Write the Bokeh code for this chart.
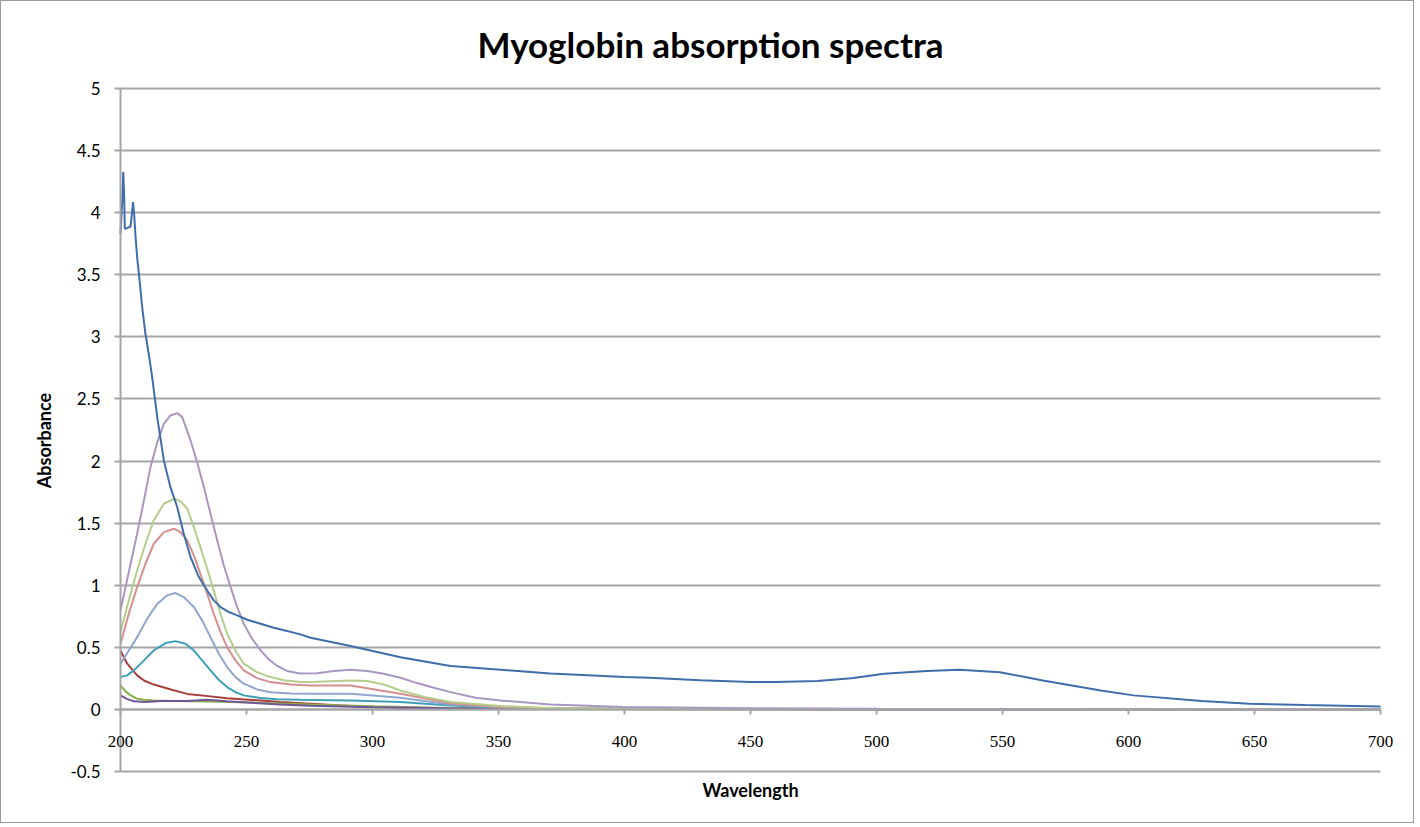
import math
from bokeh.plotting import figure
from bokeh.models import Range1d, FixedTicker, CustomJSTickFormatter, Label, LabelSet, ColumnDataSource
from bokeh.embed import file_html
from bokeh.resources import INLINE

# ---------------- data ----------------
title_text = "Myoglobin absorption spectra"
x_label = "Wavelength"
y_label = "Absorbance"
x_ticks = [200, 250, 300, 350, 400, 450, 500, 550, 600, 650, 700]
y_ticks = [-0.5, 0, 0.5, 1, 1.5, 2, 2.5, 3, 3.5, 4, 4.5, 5]

# series 1 – main spectrum (dark blue)
wl_blue = [200, 200.7, 201.1, 201.5, 201.7, 202.6, 204.0, 204.5, 205.0, 205.4, 206.0, 206.6,
           207.3, 208.6, 209.9, 211.6, 212.6, 214.6, 217.2, 219.8, 222.5, 225.1, 227.8, 231.1,
           234.4, 237.0, 239.7, 243.0, 246.3, 250.3, 255.6, 260.8, 266.1, 271.4, 275.4,
           291.3, 311.1, 331.0, 350.8, 370.6, 400, 410, 430, 450, 460, 476.5, 490, 503,
           520, 533, 549, 566, 589, 602, 629, 648, 670, 700]
abs_blue = [3.83, 4.10, 4.33, 4.10, 3.87, 3.876, 3.889, 3.99, 4.085, 3.99, 3.80, 3.64,
            3.51, 3.24, 3.025, 2.81, 2.67, 2.35, 2.005, 1.79, 1.63, 1.414, 1.227, 1.066,
            0.958, 0.878, 0.824, 0.784, 0.757, 0.722, 0.690, 0.658, 0.631, 0.604, 0.577,
            0.51, 0.42, 0.35, 0.32, 0.29, 0.26, 0.255, 0.235, 0.22, 0.22, 0.228, 0.25, 0.287,
            0.31, 0.32, 0.30, 0.233, 0.153, 0.113, 0.067, 0.046, 0.035, 0.024]

# series 2 – dark red
wl_red = [200, 202.6, 206.6, 209.3, 213.2, 220, 226.5, 235.7, 242.3, 255.6, 263.5, 275.4,
          291.3, 311, 331, 350, 400, 450, 500, 600, 700]
abs_red = [0.475, 0.37, 0.274, 0.233, 0.20, 0.16, 0.125, 0.105, 0.09, 0.072, 0.06, 0.046,
           0.027, 0.014, 0.01, 0.008, 0.005, 0.003, 0.002, 0.001, 0.0]

# series 3 – green
wl_green = [200, 202, 204, 206.6, 209.3, 213, 222.5, 240, 260, 275.4, 300, 330, 360, 400, 500, 600, 700]
abs_green = [0.193, 0.145, 0.113, 0.086, 0.078, 0.072, 0.067, 0.062, 0.05, 0.04, 0.025, 0.012, 0.006,
             0.003, 0.001, 0.0, 0.0]

# series 4 – dark purple
wl_purple = [200, 202.5, 205.3, 210, 215.9, 226.5, 234.4, 242, 263.5, 275.4, 300, 330, 360, 400, 500, 600, 700]
abs_purple = [0.113, 0.085, 0.065, 0.059, 0.067, 0.067, 0.078, 0.065, 0.04, 0.03, 0.018, 0.01, 0.005,
              0.003, 0.001, 0.0, 0.0]

# series 5 – teal
wl_teal = [200, 202.6, 205.3, 209.3, 213.2, 217.9, 221.8, 225.8, 229.1, 232.4, 235.7, 239.0,
           242.3, 245.6, 248.9, 255.6, 262.2, 271.4, 291.3, 311.1, 331, 350.8, 370, 400, 450,
           500, 600, 700]
abs_teal = [0.260, 0.274, 0.314, 0.395, 0.475, 0.534, 0.550, 0.529, 0.475, 0.395, 0.314, 0.239,
            0.180, 0.139, 0.113, 0.091, 0.082, 0.078, 0.072, 0.059, 0.032, 0.015, 0.008, 0.005,
            0.003, 0.002, 0.001, 0.0]

# series 6 – light blue
wl_lblue = [200, 203.3, 206.6, 210.6, 214.6, 218.5, 221.8, 225.1, 229.1, 232.4, 235.7, 239.0,
            242.3, 245.6, 248.9, 254.2, 259.5, 267.5, 275.4, 291.3, 311.1, 331, 350.8, 370,
            400, 450, 500, 600, 700]
abs_lblue = [0.368, 0.475, 0.582, 0.730, 0.851, 0.918, 0.937, 0.904, 0.824, 0.717, 0.582, 0.448,
             0.341, 0.260, 0.207, 0.161, 0.139, 0.129, 0.126, 0.126, 0.094, 0.04, 0.018, 0.01,
             0.006, 0.004, 0.003, 0.002, 0.0]

# series 7 – light red
wl_lred = [200, 203.3, 206.6, 209.9, 213.2, 217.2, 221.2, 223.8, 226.5, 229.1, 231.7, 234.4,
           237.0, 239.7, 242.3, 245.6, 248.9, 254.2, 259.5, 267.5, 275.4, 291.3, 311.1, 331,
           350.8, 370, 400, 450, 500, 600, 700]
abs_lred = [0.529, 0.770, 0.985, 1.173, 1.334, 1.428, 1.455, 1.428, 1.361, 1.240, 1.092, 0.931,
            0.770, 0.623, 0.502, 0.395, 0.314, 0.252, 0.220, 0.201, 0.193, 0.193, 0.126, 0.05,
            0.02, 0.01, 0.006, 0.004, 0.003, 0.002, 0.0]

# series 8 – light green
wl_lgreen = [200, 203.3, 206.6, 209.9, 213.2, 217.2, 221.2, 223.8, 226.5, 229.1, 231.7, 234.4,
             237.0, 239.7, 242.3, 245.6, 248.9, 254.2, 258.2, 264.8, 271.4, 278.0, 291.3, 297.9,
             304.5, 311.1, 321, 331, 350.8, 370, 400, 450, 500, 600, 700]
abs_lgreen = [0.623, 0.878, 1.119, 1.334, 1.522, 1.656, 1.696, 1.677, 1.616, 1.468, 1.307, 1.133,
              0.958, 0.770, 0.609, 0.475, 0.368, 0.300, 0.268, 0.235, 0.220, 0.223, 0.233, 0.228,
              0.201, 0.153, 0.099, 0.059, 0.027, 0.012, 0.007, 0.004, 0.003, 0.002, 0.0]

# series 9 – light purple
wl_lpurple = [200, 203.3, 206.6, 209.3, 211.9, 214.6, 217.2, 219.8, 222.5, 224.5, 227.8, 230.4,
              233.1, 235.7, 238.4, 241.0, 243.7, 246.3, 248.9, 252.2, 255.6, 259.0, 262.2, 266.0,
              271.4, 278.0, 284.7, 291.3, 297.9, 304.5, 311.1, 317.7, 324.3, 331.0, 340.9, 350.8,
              370.6, 400, 450, 500, 600, 700]
abs_lpurple = [0.797, 1.106, 1.414, 1.683, 1.951, 2.152, 2.300, 2.367, 2.386, 2.354, 2.166, 1.991,
               1.790, 1.576, 1.361, 1.159, 0.985, 0.824, 0.690, 0.569, 0.475, 0.400, 0.350, 0.310,
               0.290, 0.292, 0.310, 0.319, 0.309, 0.287, 0.255, 0.212, 0.175, 0.139, 0.094, 0.072,
               0.040, 0.02, 0.01, 0.005, 0.003, 0.0]

series = [
    (wl_red, abs_red, "#A93F3C"),
    (wl_green, abs_green, "#8BAE4D"),
    (wl_purple, abs_purple, "#6F5697"),
    (wl_teal, abs_teal, "#3E9FB7"),
    (wl_lblue, abs_lblue, "#8FA5CE"),
    (wl_lred, abs_lred, "#D58F8D"),
    (wl_lgreen, abs_lgreen, "#B4CD8A"),
    (wl_lpurple, abs_lpurple, "#A897C2"),
    (wl_blue, abs_blue, "#3F6DAA"),
]

FONT = "Lato"
GRID = "#A5A5A5"

# ---------------- layout ----------------
W, H = 1414, 823                 # canvas size
PL, PR, PT, PB = 119, 1379, 87, 770   # plot-area edges on the canvas (px)
x0, x1 = x_ticks[0], x_ticks[-1]
y0, y1 = y_ticks[0], y_ticks[-1]
sx = (PR - PL) / (x1 - x0)
sy = (PB - PT) / (y1 - y0)
# the frame fills the whole canvas so nothing (labels, titles) gets clipped
xr = Range1d(x0 - PL / sx, x1 + (W - PR) / sx)
yr = Range1d(y0 - (H - PB) / sy, y1 + PT / sy)

p = figure(width=W, height=H, output_backend="svg", toolbar_location=None,
           x_range=xr, y_range=yr, title=None, min_border=0)
p.outline_line_color = None
p.background_fill_color = "white"
p.border_fill_color = "white"

# horizontal gridlines, limited to the plot area
try:
    p.ygrid.cross_bounds = (x0, x1)
    p.ygrid.ticker = FixedTicker(ticks=y_ticks)
    p.ygrid.grid_line_color = GRID
    p.ygrid.grid_line_width = 2
except Exception:
    p.ygrid.visible = False
    p.segment(x0=[x0] * len(y_ticks), x1=[x1] * len(y_ticks), y0=y_ticks, y1=y_ticks,
              line_color=GRID, line_width=2)
p.xgrid.visible = False

for xs, ys, c in series:
    p.line(xs, ys, line_color=c, line_width=2)

fmt = CustomJSTickFormatter(code="return tick.toString();")

xa = p.xaxis[0]
xa.fixed_location = 0
xa.bounds = (x0, x1)
xa.ticker = FixedTicker(ticks=x_ticks)
xa.axis_line_color = GRID
xa.axis_line_width = 2
xa.major_tick_line_color = GRID
xa.major_tick_line_width = 2
xa.major_tick_in = 0
xa.major_tick_out = 5
xa.minor_tick_line_color = None
xa.major_label_text_color = None
xa.axis_label = None

ya = p.yaxis[0]
ya.fixed_location = x0
ya.bounds = (y0, y1)
ya.ticker = FixedTicker(ticks=y_ticks)
ya.formatter = fmt
ya.axis_line_color = GRID
ya.axis_line_width = 2
ya.major_tick_line_color = GRID
ya.major_tick_line_width = 2
ya.major_tick_in = 0
ya.major_tick_out = 6
ya.minor_tick_line_color = None
ya.major_label_standoff = 14
ya.major_label_text_font = FONT
ya.major_label_text_font_size = "17px"
ya.major_label_text_color = "black"
ya.axis_label = None

# x tick labels below the y = 0 axis
src = ColumnDataSource(dict(x=x_ticks, y=[0] * len(x_ticks), t=[str(v) for v in x_ticks]))
p.add_layout(LabelSet(x="x", y="y", text="t", source=src, y_offset=-38,
                      text_align="center", text_baseline="alphabetic",
                      text_font=FONT, text_font_size="17px", text_color="black"))

# title and axis titles (screen px, origin at bottom-left of the canvas)
p.add_layout(Label(x=709, y=H - 42, x_units="screen", y_units="screen", text=title_text,
                   text_align="center", text_baseline="alphabetic", text_font=FONT,
                   text_font_size="35px", text_font_style="bold", text_color="black"))
p.add_layout(Label(x=(PL + PR) / 2, y=H - 788, x_units="screen", y_units="screen", text=x_label,
                   text_align="center", text_baseline="alphabetic", text_font=FONT,
                   text_font_size="18px", text_font_style="bold", text_color="black"))
p.add_layout(Label(x=42, y=H - 439, x_units="screen", y_units="screen", text=y_label,
                   angle=math.pi / 2, text_align="center", text_baseline="middle", text_font=FONT,
                   text_font_size="18px", text_font_style="bold", text_color="black"))

p.styles = {"border": "1px solid #9A9A9A"}

open("out.html", "w").write(file_html(p, INLINE))
